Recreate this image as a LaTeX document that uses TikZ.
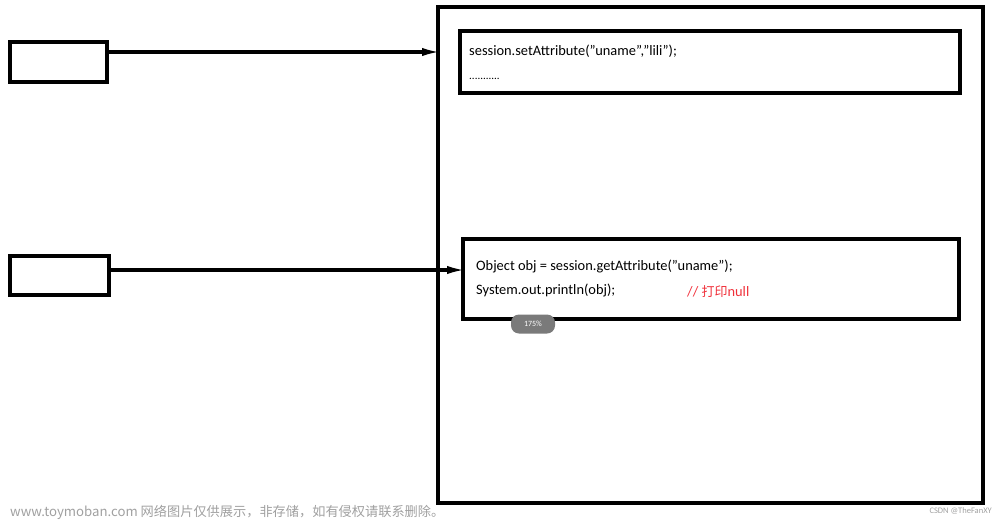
\documentclass[tikz,border=0pt]{standalone}
\usepackage{fontspec}
\usepackage{tikz}
\usetikzlibrary{arrows.meta}
\setmainfont{Carlito}
\newfontfamily\cjk{Noto Sans CJK SC}
\definecolor{badgegray}{HTML}{7A7A7A}
\definecolor{markgray}{HTML}{A0A0A0}
\definecolor{notered}{HTML}{F0303A}

\begin{document}
\begin{tikzpicture}[x=1pt,y=-1pt,
    thickbox/.style={draw,line width=4pt,inner sep=0pt},
    codeline/.style={anchor=base west,inner sep=0pt,font=\fontsize{14.4}{16}\selectfont},
    sendarrow/.style={line width=3.5pt,shorten >=-8pt,-{Latex[length=22pt,width=8pt]}}]
    \useasboundingbox (0,0) rectangle (1000,519);
    % clients
    \node[thickbox,minimum width=97pt,minimum height=40pt] (client1) at (58.5,62) {};
    \node[thickbox,minimum width=99pt,minimum height=39pt] (client2) at (59.5,275.5) {};
    % server with session
    \node[thickbox,minimum width=545pt,minimum height=496pt] (server) at (710.5,255) {};
    \node[thickbox,minimum width=500pt,minimum height=62pt] (setbox) at (710,62) {};
    \node[thickbox,minimum width=496pt,minimum height=80pt] (getbox) at (711,279) {};
    % code
    \node[codeline] (set) at (469,56) {session.setAttribute("uname","lili");};
    \node[codeline,font=\fontsize{11}{12}\selectfont] (dots) at (469,79) {...........};
    \node[codeline] (get) at (476,270) {Object obj = session.getAttribute("uname");};
    \node[codeline] (print) at (476,294) {System.out.println(obj);};
    \node[codeline,text=notered] (note) at (687,296) {// {\cjk\fontsize{13}{14}\selectfont 打印}null};
    % requests
    \coordinate (req1) at (client1.east |- 0,52);
    \coordinate (req2) at (client2.east |- 0,270);
    \draw[sendarrow] (req1) -- (req1 -| server.west);
    \draw[sendarrow] (req2) -- (req2 -| getbox.west);
    % zoom badge
    \node[fill=badgegray,rounded corners=8pt,minimum width=44pt,minimum height=19pt,
        text=white,font=\fontsize{8}{9}\selectfont] (badge) at (533,324) {175\%};
    % watermarks
    \node[anchor=base west,inner sep=0pt,text=markgray,font=\cjk\fontsize{13.2}{15}\selectfont]
        (site) at (10,516) {www.toymoban.com 网络图片仅供展示，非存储，如有侵权请联系删除。};
    \node[anchor=base east,inner sep=0pt,text=markgray,font=\fontsize{8.5}{9}\selectfont]
        (csdn) at (992,513) {CSDN @TheFanXY};
\end{tikzpicture}
\end{document}
